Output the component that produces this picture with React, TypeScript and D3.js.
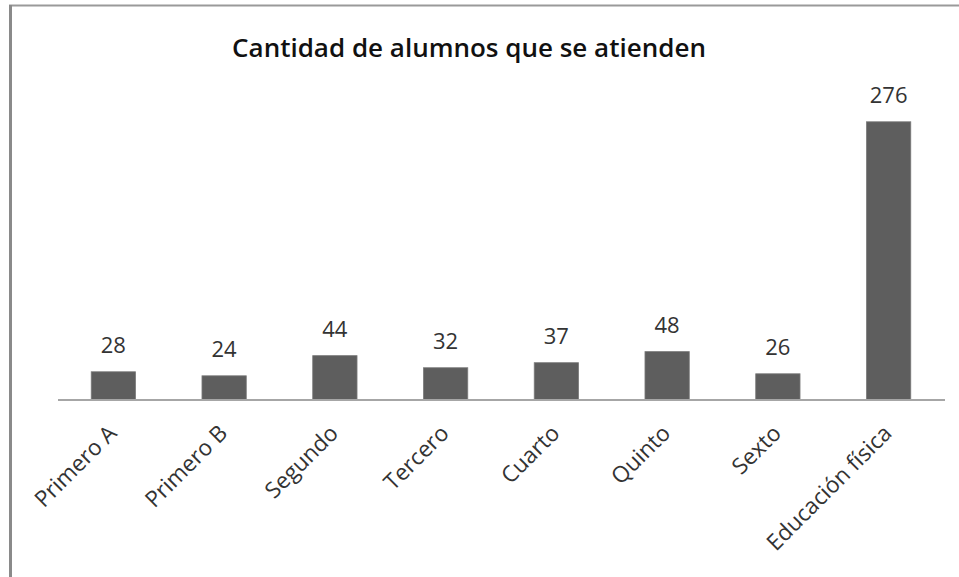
import React from "react";
import * as d3 from "d3";

const categories = ["Primero A", "Primero B", "Segundo", "Tercero", "Cuarto", "Quinto", "Sexto", "Educación física"];
const values = [28, 24, 44, 32, 37, 48, 26, 276];
const title = "Cantidad de alumnos que se atienden";

const W = 959;
const H = 577;
const FONT = "'Open Sans', 'Noto Sans', sans-serif";

export default function App() {
  const x = d3.scaleBand<string>().domain(categories).range([58, 944]).paddingInner(0.6).paddingOuter(0.3);
  const y = d3.scaleLinear().domain([0, 300]).range([400, 97.6]);
  const bw = x.bandwidth();
  return (
    <svg width={W} height={H} style={{ position: "fixed", left: 0, top: 0, background: "#fff" }}>
      <rect x={0} y={0} width={W} height={H} fill="#fff" />
      <line x1={9} x2={W} y1={5.5} y2={5.5} stroke="#9a9a9a" strokeWidth={2} />
      <line x1={10.5} x2={10.5} y1={5} y2={H} stroke="#8a8a8a" strokeWidth={3} />
      <text x={469} y={57} textAnchor="middle" fontFamily={FONT} fontWeight={600} fontSize={26} fill="#111">{title}</text>
      {categories.map((c, i) => {
        const cx = (x(c) as number) + bw / 2;
        return (
          <g key={c}>
            <rect x={x(c)} y={y(values[i])} width={bw} height={400 - y(values[i])} fill="#5e5e5e" stroke="#7a7a7a" strokeWidth={0.8} />
            <text x={cx} y={y(values[i]) - 19} textAnchor="middle" fontFamily={FONT} fontSize={22} fill="#333">{values[i]}</text>
            <text transform={`translate(${cx - 9},${421}) rotate(-45)`} textAnchor="end" dominantBaseline="hanging" fontFamily={FONT} fontSize={22.5} fill="#333">{c}</text>
          </g>
        );
      })}
      <line x1={58} x2={945} y1={400} y2={400} stroke="#a6a6a6" strokeWidth={2} />
    </svg>
  );
}
